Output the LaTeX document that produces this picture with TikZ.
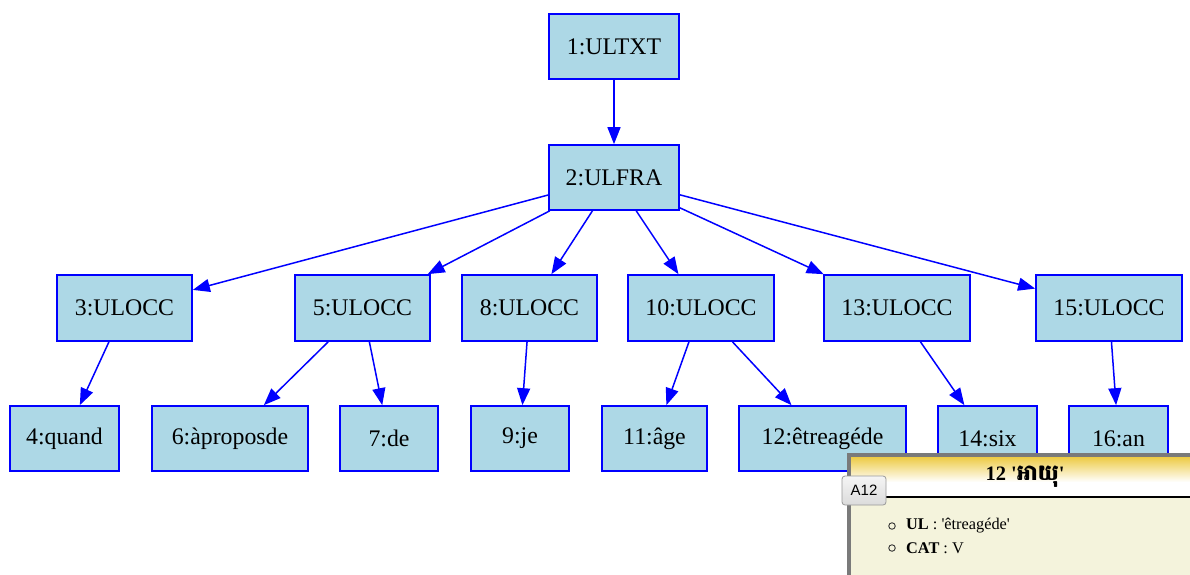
\documentclass[tikz,border=0pt]{standalone}
\usepackage{fontspec}
\setmainfont{Liberation Serif}
\newfontfamily\khmerfont[Script=Khmer]{Battambang}
\newfontfamily\btnfont{Liberation Sans}
\usetikzlibrary{arrows.meta}
\definecolor{lb}{HTML}{ADD8E6}
\definecolor{tipgold}{HTML}{EDCB45}
\definecolor{tipbeige}{HTML}{F4F3DC}
\definecolor{tipborder}{HTML}{7A7A7A}
\newcommand{\sq}{\textquotesingle}
\begin{document}
\begin{tikzpicture}[x=1pt,y=-1pt,
  box/.style={draw=blue, line width=1.7pt, fill=lb, inner sep=0pt,
    font=\fontsize{23.8}{26}\selectfont, minimum height=65pt},
  edge/.style={draw=blue, line width=1.5pt, -{Triangle[length=17pt,width=13pt]}},
  bulletdot/.style={circle, draw=black!80, line width=0.9pt, minimum size=6.5pt, inner sep=0pt},
  tiptext/.style={anchor=west, inner sep=0pt, font=\fontsize{16.3}{19}\selectfont}]
\useasboundingbox (0,0) rectangle (1190,574);
\fill[white] (0,0) rectangle (1190,574);
% nodes
\node[box, minimum width=130pt] (n1) at (614,46.5) {1:ULTXT};
\node[box, minimum width=130pt] (n2) at (614,177.5) {2:ULFRA};
\node[box, minimum width=135pt, minimum height=66pt] (n3) at (124.5,308) {3:ULOCC};
\node[box, minimum width=135pt, minimum height=66pt] (n5) at (362.5,308) {5:ULOCC};
\node[box, minimum width=135pt, minimum height=66pt] (n8) at (529.5,308) {8:ULOCC};
\node[box, minimum width=146pt, minimum height=66pt] (n10) at (701,308) {10:ULOCC};
\node[box, minimum width=146pt, minimum height=66pt] (n13) at (897,308) {13:ULOCC};
\node[box, minimum width=146pt, minimum height=66pt] (n15) at (1109,308) {15:ULOCC};
\node[box, minimum width=109pt] (n4) at (64.5,438.5) {4:quand};
\node[box, minimum width=156pt] (n6) at (230,438.5) {6:àproposde};
\node[box, minimum width=98pt] (n7) at (389,438.5) {7:de};
\node[box, minimum width=98pt] (n9) at (520,438.5) {9:je};
\node[box, minimum width=105pt] (n11) at (654.5,438.5) {11:âge};
\node[box, minimum width=167pt] (n12) at (822.5,438.5) {12:êtreagéde};
\node[box, minimum width=99pt] (n14) at (987.5,438.5) {14:six};
\node[box, minimum width=99pt] (n16) at (1118.5,438.5) {16:an};
% edges
\draw[edge] (n1) -- (n2);
\draw[edge] (n2) -- (n3);
\draw[edge] (n2) -- (n5);
\draw[edge] (n2) -- (n8);
\draw[edge] (n2) -- (n10);
\draw[edge] (n2) -- (n13);
\draw[edge] (n2) -- (n15);
\draw[edge] (n3) -- (n4);
\draw[edge] (n5) -- (n6);
\draw[edge] (n5) -- (n7);
\draw[edge] (n8) -- (n9);
\draw[edge] (n10) -- (n11);
\draw[edge] (n10) -- (n12);
\draw[edge] (n13) -- (n14);
\draw[edge] (n15) -- (n16);
% tooltip
\begin{scope}
\clip (0,0) rectangle (1190,574);
\fill[tipborder] (847,453) rectangle (1200,580);
\fill[tipbeige] (851,457) rectangle (1200,580);
\fill[white] (851,457) rectangle (1200,497);
\shade[top color=tipgold, bottom color=white] (851,457) rectangle (1200,482);
\draw[black, line width=1.2pt] (851,497) -- (1200,497);
\node[inner sep=0pt, font=\fontsize{20.5}{23}\selectfont\bfseries] (tiptitle) at (1025,477)
  {12 \sq{\khmerfont\fontsize{22}{23}\selectfont អាយុ}\sq};
\node[draw=black!40, line width=0.8pt, rounded corners=3pt, top color=white!96!black,
  bottom color=white!86!black, minimum width=44pt, minimum height=29pt, inner sep=0pt,
  font=\btnfont\fontsize{15}{18}\selectfont] (btn) at (864,490.5) {A12};
\node[bulletdot] (b1) at (892,526) {};
\node[tiptext] (t1) at (906,526) {\textbf{UL} : \sq êtreagéde\sq};
\node[bulletdot] (b2) at (892,548) {};
\node[tiptext] (t2) at (906,548) {\textbf{CAT} : V};
\end{scope}
\end{tikzpicture}
\end{document}
